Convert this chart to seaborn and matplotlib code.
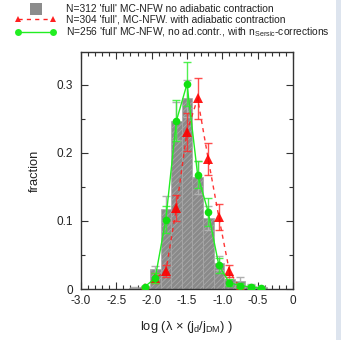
import matplotlib
matplotlib.use("Agg")
import matplotlib.pyplot as plt
from matplotlib.lines import Line2D
from matplotlib.legend_handler import HandlerLine2D
from matplotlib.patches import Rectangle
from matplotlib.ticker import MultipleLocator, FuncFormatter
import pandas as pd
import seaborn as sns

# Histogram: N=312 'full' MC-NFW, no adiabatic contraction
bin_centers = [-2.25, -2.10, -1.95, -1.80, -1.65, -1.50, -1.35, -1.20, -1.05, -0.90, -0.75, -0.60, -0.45]
hist_frac = [0.002, 0.003, 0.029, 0.118, 0.247, 0.280, 0.164, 0.104, 0.038, 0.014, 0.012, 0.005, 0.003]
hist_err = [0.001, 0.002, 0.005, 0.019, 0.028, 0.027, 0.024, 0.018, 0.010, 0.006, 0.005, 0.003, 0.002]
bin_width = 0.15

# N=304 with adiabatic contraction
red_x = [-2.10, -1.95, -1.80, -1.65, -1.50, -1.35, -1.20, -1.05, -0.90, -0.75]
red_y = [0.002, 0.016, 0.026, 0.119, 0.231, 0.280, 0.191, 0.106, 0.026, 0.002]
red_err = [0.001, 0.007, 0.009, 0.019, 0.028, 0.030, 0.024, 0.019, 0.009, 0.002]

# N=256 no ad. contr., with n_Sersic corrections
green_x = [-2.10, -1.95, -1.80, -1.65, -1.50, -1.35, -1.20, -1.05, -0.90, -0.75, -0.60, -0.45]
green_y = [0.003, 0.016, 0.102, 0.247, 0.301, 0.168, 0.113, 0.035, 0.009, 0.005, 0.003, 0.001]
green_err = [0.002, 0.007, 0.020, 0.030, 0.033, 0.020, 0.020, 0.011, 0.005, 0.004, 0.003, 0.001]

legend_labels = [
    "N=312 'full' MC-NFW no adiabatic contraction",
    "N=304 'full', MC-NFW. with adiabatic contraction",
    "N=256 'full' MC-NFW, no ad.contr., with n$_{\\mathregular{Sersic}}$-corrections",
]

sns.set_theme(style="ticks")
plt.rcParams.update({
    "font.family": ["Liberation Sans", "DejaVu Sans"],
    "mathtext.fontset": "custom",
    "mathtext.rm": "Liberation Sans",
    "mathtext.it": "Liberation Sans",
    "mathtext.default": "regular",
    "hatch.color": "#6f6f6f",
    "hatch.linewidth": 0.6,
    "axes.edgecolor": "#333333",
    "axes.linewidth": 1.0,
})

fig = plt.figure(figsize=(3.41, 3.40), dpi=100)
ax = fig.add_axes([81 / 341, 1 - 289 / 340, (293 - 81) / 341, (289 - 52) / 340])

hist_df = pd.DataFrame({"x": bin_centers, "w": hist_frac})
edges = [c - bin_width / 2 for c in bin_centers] + [bin_centers[-1] + bin_width / 2]
sns.histplot(data=hist_df, x="x", weights="w", bins=edges, ax=ax, stat="count",
             color="#8a8a8a", alpha=1.0, edgecolor="#a8a8a8", linewidth=0.5,
             hatch="//////", zorder=1)
ax.errorbar(bin_centers, hist_frac, yerr=hist_err, fmt="none", ecolor="#b0b0b0",
            elinewidth=1.0, capsize=3, capthick=1.0, zorder=2)

red_df = pd.DataFrame({"x": red_x, "y": red_y})
ax.errorbar(red_x, red_y, yerr=red_err, fmt="none", ecolor="#ff3030",
            elinewidth=1.0, capsize=3, capthick=1.0, alpha=0.85, zorder=3)
sns.lineplot(data=red_df, x="x", y="y", ax=ax, color="#ff2020", linestyle=(0, (3, 3)),
             linewidth=1.0, marker="^", markersize=6.5, markeredgewidth=0,
             markerfacecolor="red", alpha=0.9, zorder=4)

green_df = pd.DataFrame({"x": green_x, "y": green_y})
ax.errorbar(green_x, green_y, yerr=green_err, fmt="none", ecolor="#33ee33",
            elinewidth=1.0, capsize=3, capthick=1.0, alpha=0.85, zorder=5)
sns.lineplot(data=green_df, x="x", y="y", ax=ax, color="#22ee22", linestyle="-",
             linewidth=1.0, marker="o", markersize=5.5, markeredgewidth=0,
             markerfacecolor="#11e011", zorder=6)

ax.set_xlim(-3.0, 0.0)
ax.set_ylim(0, 0.348)
ax.xaxis.set_major_locator(MultipleLocator(0.5))
ax.xaxis.set_minor_locator(MultipleLocator(0.1))
ax.yaxis.set_major_locator(MultipleLocator(0.1))
ax.yaxis.set_minor_locator(MultipleLocator(0.05))
ax.xaxis.set_major_formatter(FuncFormatter(lambda v, p: "0" if abs(v) < 1e-9 else f"{v:.1f}"))
ax.yaxis.set_major_formatter(FuncFormatter(lambda v, p: "0" if abs(v) < 1e-9 else f"{v:.1f}"))
ax.tick_params(which="both", direction="in", top=True, right=True, colors="#333333",
               labelcolor="#222222", labelsize=8.5)
ax.tick_params(which="major", length=5, width=0.8)
ax.tick_params(which="minor", length=3, width=0.8)
ax.tick_params(axis="x", which="major", pad=4)
ax.tick_params(axis="y", which="major", pad=6)

ax.set_xlabel("log (\u03bb \u00d7 (j$_d$/j$_{DM}$) )", fontsize=9.3, color="#222222", labelpad=9)
ax.set_ylabel("fraction", fontsize=9.3, color="#222222", labelpad=11)

handles = [
    Line2D([], [], linestyle="none", marker="s", markersize=8, color="#8c8c8c", markeredgewidth=0),
    Line2D([], [], linestyle=(0, (3, 3)), color="#ff2020", linewidth=1.0, marker="^",
           markersize=5, markeredgewidth=0),
    Line2D([], [], linestyle="-", color="#22ee22", linewidth=1.0, marker="o",
           markersize=5, markeredgewidth=0),
]
leg = fig.legend(handles, legend_labels, loc="upper left", bbox_to_anchor=(14 / 341, 0.99),
                 frameon=False, fontsize=7.4, handlelength=4.0, handletextpad=1.0,
                 labelspacing=0.05, borderpad=0.1, borderaxespad=0, numpoints=2,
                 handler_map={handles[0]: HandlerLine2D(numpoints=1)})
for t in leg.get_texts():
    t.set_color("#222222")

fig.patches.append(Rectangle((336 / 341, 0), 5 / 341, 1, transform=fig.transFigure,
                             facecolor="#dde4ee", edgecolor="none", zorder=-1))

fig.savefig("out.png", dpi=100)
